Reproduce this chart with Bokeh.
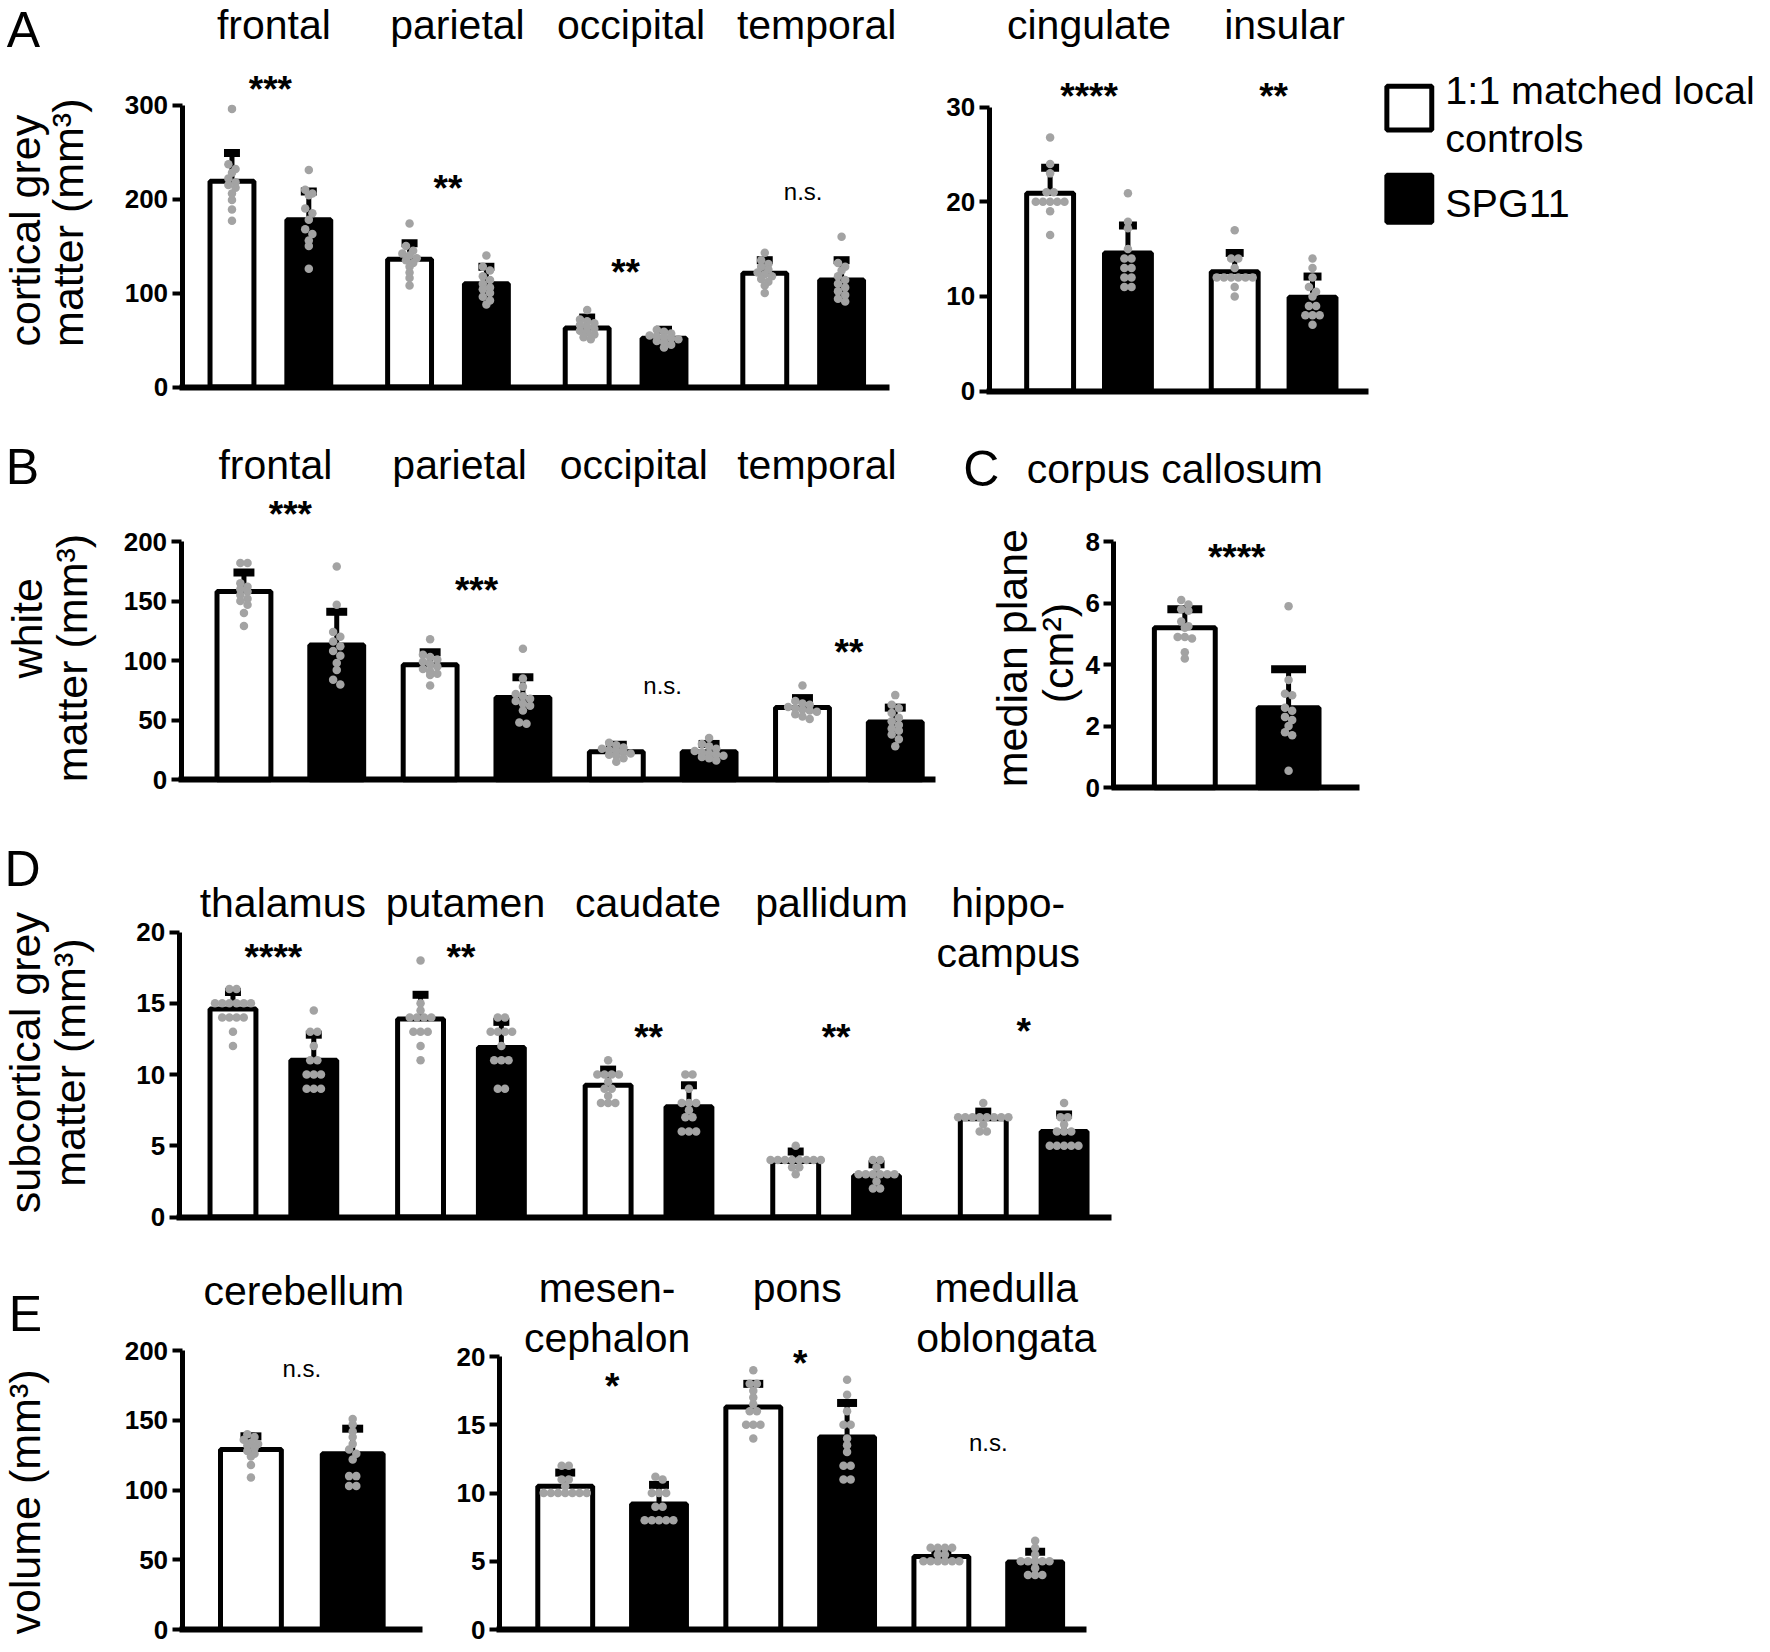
import math
from bokeh.plotting import figure
from bokeh.models import Range1d, LinearAxis, FixedTicker
from bokeh.core.properties import value
from bokeh.embed import file_html
from bokeh.resources import INLINE

# ------------------------------------------------------------------ data
# A: cortical grey matter (mm³)
cortical_regions = ["frontal", "parietal", "occipital", "temporal"]
cortical_ctrl_mean = [219, 136, 63, 121]
cortical_ctrl_sd = [30, 17, 11, 14]
cortical_spg_mean = [178, 110, 52, 114]
cortical_spg_sd = [30, 18, 9, 21]
cortical_ctrl_pts = [
    [296, 237, 232, 228, 222, 218, 215, 212, 206, 199, 189, 177],
    [174, 150, 145, 142, 140, 137, 135, 132, 128, 122, 116, 108],
    [82, 72, 70, 68, 66, 64, 62, 60, 58, 56, 53, 51],
    [143, 135, 131, 128, 125, 122, 120, 118, 115, 112, 108, 100],
]
cortical_spg_pts = [
    [231, 210, 206, 204, 190, 185, 178, 168, 163, 156, 150, 126],
    [140, 128, 124, 118, 114, 110, 106, 104, 100, 96, 92, 88],
    [61, 59, 57, 55, 54, 53, 52, 51, 49, 48, 45, 42],
    [160, 132, 128, 124, 118, 114, 110, 106, 102, 98, 94, 91],
]
cortical_sig = ["***", "**", "**", "n.s."]

limbic_regions = ["cingulate", "insular"]
limbic_ctrl_mean = [20.9, 12.6]
limbic_ctrl_sd = [2.7, 2.0]
limbic_spg_mean = [14.6, 9.9]
limbic_spg_sd = [2.9, 2.2]
limbic_ctrl_pts = [
    [26.8, 24, 23, 21, 21, 20, 20, 20, 20, 20, 19, 16.5],
    [17, 14, 14, 13, 12, 12, 12, 12, 12, 12, 11, 10],
]
limbic_spg_pts = [
    [20.9, 17.9, 17.2, 15, 14, 14, 13, 13, 12, 12, 11, 11],
    [14, 13, 12, 11, 10.5, 10, 9, 9, 8, 8, 8, 7],
]
limbic_sig = ["****", "**"]

# B: white matter (mm³)
white_regions = ["frontal", "parietal", "occipital", "temporal"]
white_ctrl_mean = [158, 96.5, 23.5, 60.5]
white_ctrl_sd = [16, 10.5, 5.8, 8]
white_spg_mean = [113, 69, 23.5, 48.5]
white_spg_sd = [28, 17, 6.5, 12]
white_ctrl_pts = [
    [182, 182, 165, 162, 160, 158, 155, 152, 150, 147, 140, 129],
    [118, 105, 103, 101, 99, 97, 95, 93, 91, 89, 88, 79],
    [31, 29, 27, 26, 25, 24, 23, 22, 21, 20, 18, 15],
    [79, 66, 64, 63, 61, 60, 59, 58, 57, 55, 53, 51],
]
white_spg_pts = [
    [179, 147, 124, 120, 116, 112, 108, 104, 98, 92, 84, 80],
    [110, 85, 78, 72, 70, 68, 66, 64, 62, 58, 48, 47],
    [35, 30, 28, 26, 24, 23, 22, 21, 20, 19, 18, 16],
    [71, 63, 60, 56, 52, 49, 46, 43, 41, 38, 34, 28],
]
white_sig = ["***", "***", "n.s.", "**"]

# C: corpus callosum, median plane (cm²)
cc_ctrl_mean = [5.2]
cc_ctrl_sd = [0.6]
cc_spg_mean = [2.6]
cc_spg_sd = [1.25]
cc_ctrl_pts = [[6.1, 5.95, 5.8, 5.75, 5.4, 5.25, 5.2, 4.9, 4.9, 4.85, 4.4, 4.2]]
cc_spg_pts = [[5.9, 3.5, 3.05, 3.0, 2.6, 2.5, 2.3, 2.2, 2.0, 1.8, 1.7, 0.55]]
cc_sig = ["****"]

# D: subcortical grey matter (mm³)
subcort_regions = ["thalamus", "putamen", "caudate", "pallidum", "hippo-\ncampus"]
subcort_ctrl_mean = [14.6, 13.9, 9.25, 3.9, 6.9]
subcort_ctrl_sd = [1.2, 1.7, 1.1, 0.7, 0.5]
subcort_spg_mean = [11.0, 11.9, 7.75, 2.9, 6.0]
subcort_spg_sd = [1.8, 1.8, 1.5, 0.8, 1.2]
subcort_ctrl_pts = [
    [16, 16, 15, 15, 15, 15, 15, 15, 14, 14, 14, 14, 13, 12],
    [18, 15, 14.5, 14, 14, 14, 14, 13, 13, 13, 12, 11],
    [11, 10, 10, 10, 10, 9.5, 9, 9, 8.5, 8, 8, 8],
    [5, 4, 4, 4, 4, 4, 4, 4, 4, 3.5, 3.5, 3],
    [8, 7, 7, 7, 7, 7, 7, 7, 7, 6.5, 6, 6],
]
subcort_spg_pts = [
    [14.5, 13, 13, 12, 11, 11, 10, 10, 10, 9, 9, 9],
    [14, 14, 13, 13, 13, 13, 12, 11, 11, 11, 9, 9],
    [10, 10, 9, 8, 8, 8, 7.5, 7, 7, 6, 6, 6],
    [4, 4, 3.5, 3, 3, 3, 3, 3, 3, 2.5, 2, 2],
    [8, 7, 7, 6.5, 6, 6, 6, 5, 5, 5, 5, 5],
]
subcort_sig = ["****", "**", "**", "**", "*"]

# E: volume (mm³)
cereb_regions = ["cerebellum"]
cereb_ctrl_mean = [129]
cereb_ctrl_sd = [9.5]
cereb_spg_mean = [126]
cereb_spg_sd = [18]
cereb_ctrl_pts = [[140, 138, 136, 134, 133, 132, 130, 128, 126, 124, 118, 109]]
cereb_spg_pts = [[151, 147, 142, 138, 133, 129, 126, 122, 110, 110, 103, 103]]
cereb_sig = ["n.s."]

stem_regions = ["mesen-\ncephalon", "pons", "medulla\noblongata"]
stem_ctrl_mean = [10.5, 16.3, 5.35]
stem_ctrl_sd = [1.0, 1.7, 0.45]
stem_spg_mean = [9.2, 14.1, 4.95]
stem_spg_sd = [1.4, 2.5, 0.75]
stem_ctrl_pts = [
    [12, 12, 11, 11, 10.5, 10, 10, 10, 10, 10, 10, 10],
    [19, 18, 18, 17.5, 17, 16.5, 16, 16, 15, 15, 15, 14],
    [6, 6, 6, 6, 5.5, 5.5, 5, 5, 5, 5, 5, 5],
]
stem_spg_pts = [
    [11.2, 11, 10, 10, 10, 9, 9, 8, 8, 8, 8, 8],
    [18.3, 17.2, 16, 15, 15, 14, 13.5, 13, 12, 12, 11, 11],
    [6.5, 6, 5.5, 5, 5, 5, 5, 5, 4.5, 4, 4, 4],
]
stem_sig = ["*", "*", "n.s."]

legend_labels = ["1:1 matched local\ncontrols", "SPG11"]

# ------------------------------------------------------------------ layout (reference-pixel space)
REF_W, REF_H = 1770, 1652
FONT = "Liberation Sans"
GREY = "#a3a3a3"
BAR_LW = 5

PANELS = {
    "A1": dict(axis_x=182, x_end=891, y0=388, ytop=105, vmax=300, step=100,
               ctrl_x0=232, spg_x0=309, period=178, bar=49, cap=16,
               title_y=25, title_dx=[3.5, 9.5, 5.5, 13.5], sig_y=[81, 181, 265, 192]),
    "A2": dict(axis_x=991, x_end=1371, y0=392, ytop=107, vmax=30, step=10,
               ctrl_x0=1052, spg_x0=1130, period=185, bar=52, cap=18,
               title_y=25, title_dx=[0, 11], sig_y=[88, 88]),
    "B": dict(axis_x=181, x_end=937, y0=782, ytop=543, vmax=200, step=50,
              ctrl_x0=244, spg_x0=337, period=186.6, bar=59, cap=21,
              title_y=466, title_dx=[-15, -17, -29, -32], sig_y=[508, 584, 687, 646]),
    "C": dict(axis_x=1116, x_end=1362, y0=790, ytop=543, vmax=8, step=2,
              ctrl_x0=1187, spg_x0=1291, period=0, bar=66, cap=35,
              title_y=None, title_dx=[0], sig_y=[551]),
    "D": dict(axis_x=179, x_end=1114, y0=1221, ytop=935, vmax=20, step=5,
              ctrl_x0=233, spg_x0=314, period=188, bar=51, cap=16,
              title_y=906, title_dx=[9.5, 4.5, -0.5, -4.5, -15.5],
              sig_y=[952, 952, 1033, 1033, 1027]),
    "E1": dict(axis_x=182, x_end=423, y0=1635, ytop=1355, vmax=200, step=50,
               ctrl_x0=251, spg_x0=353, period=0, bar=66, cap=21,
               title_y=1295, title_dx=[2], sig_y=[1373]),
    "E2": dict(axis_x=500, x_end=1088, y0=1635, ytop=1361, vmax=20, step=5,
               ctrl_x0=566, spg_x0=660, period=188.5, bar=60, cap=20,
               title_y=1292, title_dx=[-5, -3, 18], sig_y=[1383, 1360, 1447]),
}

p = figure(width=1766, height=1646, x_range=Range1d(0, REF_W), y_range=Range1d(REF_H, 0),
           output_backend="svg", toolbar_location=None, min_border=0, title=None,
           x_axis_location=None, y_axis_location=None)
p.outline_line_color = None
p.xgrid.grid_line_color = None
p.ygrid.grid_line_color = None

ranges = {}
for key, spec in PANELS.items():
    k = (spec["y0"] - spec["ytop"]) / spec["vmax"]
    spec["k"] = k
    ranges[key] = Range1d(-(REF_H - spec["y0"]) / k, spec["y0"] / k)
p.extra_y_ranges = ranges


def swarm(vals, k, d=7.2, tol=5.0):
    order = sorted(range(len(vals)), key=lambda i: -vals[i])
    rows = []
    for i in order:
        if rows and (vals[rows[-1][0]] - vals[i]) * k < tol:
            rows[-1].append(i)
        else:
            rows.append([i])
    offs = [0.0] * len(vals)
    for row in rows:
        n = len(row)
        for j, i in enumerate(row):
            offs[i] = (j - (n - 1) / 2) * d
    return offs


def draw_panel(key, regions, ctrl_mean, ctrl_sd, spg_mean, spg_sd, ctrl_pts, spg_pts, sig):
    spec = PANELS[key]
    k = spec["k"]
    n = len(ctrl_mean)
    cx = [spec["ctrl_x0"] + spec["period"] * g for g in range(n)]
    sx = [spec["spg_x0"] + spec["period"] * g for g in range(n)]
    w = spec["bar"] - BAR_LW
    p.vbar(x=cx, top=ctrl_mean, bottom=0, width=w, fill_color="white",
           line_color="black", line_width=BAR_LW, y_range_name=key)
    p.vbar(x=sx, top=spg_mean, bottom=0, width=w, fill_color="black",
           line_color="black", line_width=BAR_LW, y_range_name=key)
    xs = cx + sx
    m = list(ctrl_mean) + list(spg_mean)
    s = list(ctrl_sd) + list(spg_sd)
    tops = [a + b for a, b in zip(m, s)]
    p.segment(x0=xs, y0=m, x1=xs, y1=tops, line_width=5, line_color="black", y_range_name=key)
    half = spec["cap"] / 2
    p.segment(x0=[x - half for x in xs], y0=tops, x1=[x + half for x in xs], y1=tops,
              line_width=8, line_color="black", y_range_name=key)
    # individual points
    px, py = [], []
    for x, pts in zip(xs, list(ctrl_pts) + list(spg_pts)):
        offs = swarm(pts, k)
        px += [x + o for o in offs]
        py += list(pts)
    p.scatter(x=px, y=py, size=8.5, fill_color=GREY, line_color=None, y_range_name=key)

    # axes
    ticks = list(range(0, spec["vmax"] + 1, spec["step"]))
    ya = LinearAxis(y_range_name=key, fixed_location=spec["axis_x"], bounds=(0, spec["vmax"]),
                    ticker=FixedTicker(ticks=ticks), axis_line_width=5, axis_line_color="black",
                    major_tick_line_width=4, major_tick_out=10, major_tick_in=0,
                    minor_tick_line_color=None, major_label_standoff=4,
                    major_label_text_font=FONT, major_label_text_font_style="bold",
                    major_label_text_font_size="26px", major_label_text_color="black")
    p.add_layout(ya, "left")
    xa = LinearAxis(y_range_name=key, fixed_location=0, bounds=(spec["axis_x"] - 2.5, spec["x_end"]),
                    ticker=FixedTicker(ticks=[]), axis_line_width=6, axis_line_color="black",
                    major_tick_line_color=None, minor_tick_line_color=None,
                    major_label_text_font_size="0px")
    p.add_layout(xa, "below")

    # significance marks
    pc = [(a + b) / 2 for a, b in zip(cx, sx)]
    st = [(x, y, t) for x, y, t in zip(pc, spec["sig_y"], sig) if t != "n.s."]
    ns = [(x, y, t) for x, y, t in zip(pc, spec["sig_y"], sig) if t == "n.s."]
    if st:
        p.text(x=[a[0] for a in st], y=[a[1] for a in st], text=[a[2] for a in st],
               text_font=value(FONT), text_font_size="37px", text_font_style="bold",
               text_align="center", text_baseline="alphabetic", y_offset=8, text_color="black")
    if ns:
        p.text(x=[a[0] for a in ns], y=[a[1] for a in ns], text=[a[2] for a in ns],
               text_font=value(FONT), text_font_size="24px", text_align="center",
               text_baseline="alphabetic", y_offset=0, text_color="black")

    # region titles
    if spec["title_y"] is not None:
        tx, ty, tt = [], [], []
        for x, dx, name in zip(pc, spec["title_dx"], regions):
            for li, line in enumerate(name.split("\n")):
                tx.append(x + dx)
                ty.append(spec["title_y"] + 50 * li)
                tt.append(line)
        p.text(x=tx, y=ty, text=tt, text_font=value(FONT), text_font_size="41px",
               text_align="center", text_baseline="middle", text_color="black")


draw_panel("A1", cortical_regions, cortical_ctrl_mean, cortical_ctrl_sd, cortical_spg_mean,
           cortical_spg_sd, cortical_ctrl_pts, cortical_spg_pts, cortical_sig)
draw_panel("A2", limbic_regions, limbic_ctrl_mean, limbic_ctrl_sd, limbic_spg_mean,
           limbic_spg_sd, limbic_ctrl_pts, limbic_spg_pts, limbic_sig)
draw_panel("B", white_regions, white_ctrl_mean, white_ctrl_sd, white_spg_mean,
           white_spg_sd, white_ctrl_pts, white_spg_pts, white_sig)
draw_panel("C", ["corpus callosum"], cc_ctrl_mean, cc_ctrl_sd, cc_spg_mean,
           cc_spg_sd, cc_ctrl_pts, cc_spg_pts, cc_sig)
draw_panel("D", subcort_regions, subcort_ctrl_mean, subcort_ctrl_sd, subcort_spg_mean,
           subcort_spg_sd, subcort_ctrl_pts, subcort_spg_pts, subcort_sig)
draw_panel("E1", cereb_regions, cereb_ctrl_mean, cereb_ctrl_sd, cereb_spg_mean,
           cereb_spg_sd, cereb_ctrl_pts, cereb_spg_pts, cereb_sig)
draw_panel("E2", stem_regions, stem_ctrl_mean, stem_ctrl_sd, stem_spg_mean,
           stem_spg_sd, stem_ctrl_pts, stem_spg_pts, stem_sig)

# panel C heading
p.text(x=[1177], y=[470], text=["corpus callosum"], text_font=value(FONT), text_font_size="41px",
       text_align="center", text_baseline="middle", text_color="black")

# panel letters
p.text(x=[23, 22, 983, 22, 25], y=[30, 468, 470, 872, 1318], text=["A", "B", "C", "D", "E"],
       text_font=value(FONT), text_font_size="50px", text_align="center",
       text_baseline="middle", text_color="black")

# y-axis titles (rotated)
yl_text = ["cortical grey", "matter (mm³)", "white", "matter (mm³)", "median plane", "(cm²)",
           "subcortical grey", "matter (mm³)", "volume (mm³)"]
yl_x = [25, 68, 27, 72, 1014, 1060, 25, 70, 25]
yl_y = [231, 223, 630, 660, 660, 655, 1066, 1066, 1507]
p.text(x=yl_x, y=yl_y, text=yl_text, angle=math.pi / 2, text_font=value(FONT),
       text_font_size="43px", text_align="center", text_baseline="middle", text_color="black")

# legend
p.rect(x=[1412], y=[108], width=45, height=44, fill_color="white", line_color="black", line_width=5)
p.rect(x=[1412], y=[199], width=45, height=47, fill_color="black", line_color="black", line_width=5)
leg_lines = legend_labels[0].split("\n") + [legend_labels[1]]
p.text(x=[1448, 1448, 1448], y=[90, 138, 203], text=leg_lines, text_font=value(FONT),
       text_font_size="39.5px", text_align="left", text_baseline="middle", text_color="black")

open("out.html", "w").write(file_html(p, INLINE))
